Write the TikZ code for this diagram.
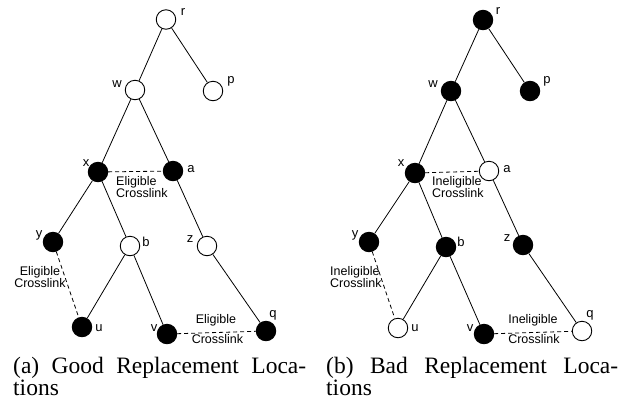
\documentclass[tikz,border=0pt]{standalone}
\usepackage{fontspec}
\setmainfont{Liberation Serif}
\newfontfamily\lblfont{Liberation Sans}
\begin{document}
\begin{tikzpicture}[x=1pt,y=-1pt,
  vtx/.style={circle,draw=black,line width=0.9pt,minimum size=19.5pt,inner sep=0pt},
  wn/.style={vtx,fill=white},
  bn/.style={vtx,fill=black},
  edge/.style={line width=0.8pt},
  xlink/.style={line width=0.8pt,dash pattern=on 4pt off 3pt},
  lbl/.style={inner sep=0pt,font=\lblfont\fontsize{13}{13}\selectfont},
  xl/.style={inner sep=0pt,font=\lblfont\fontsize{12.5}{11.5}\selectfont},
  captext/.style={inner sep=0pt,anchor=base west,font=\fontsize{23.5}{21}\selectfont}]
\useasboundingbox (0,0) rectangle (626,400);
% ---------- left tree ----------
\node[wn] (lr) at (166,19.5) {};
\node[wn] (lw) at (135,90) {};
\node[wn] (lp) at (213,91) {};
\node[bn] (lx) at (98,172) {};
\node[bn] (la) at (173,171) {};
\node[bn] (ly) at (53,242) {};
\node[wn] (lb) at (130,246) {};
\node[wn] (lz) at (207,246) {};
\node[bn] (lu) at (82,327) {};
\node[bn] (lv) at (167,334) {};
\node[bn] (lq) at (266,331) {};
\draw[edge] (lr) -- (lw);
\draw[edge] (lr) -- (lp);
\draw[edge] (lw) -- (lx);
\draw[edge] (lw) -- (la);
\draw[edge] (lx) -- (ly);
\draw[edge] (lx) -- (lb);
\draw[edge] (la) -- (lz);
\draw[edge] (lb) -- (lu);
\draw[edge] (lb) -- (lv);
\draw[edge] (lz) -- (lq);
\draw[xlink] (lx) -- (la);
\draw[xlink] (ly) -- (lu);
\draw[xlink] (lv) -- (lq);
\node[lbl] (tlr) at (183,12) {r};
\node[lbl] (tlw) at (117,84) {w};
\node[lbl] (tlp) at (231,81) {p};
\node[lbl] (tlx) at (86,163) {x};
\node[lbl] (tla) at (191,169) {a};
\node[lbl] (tly) at (39,235) {y};
\node[lbl] (tlb) at (146,242) {b};
\node[lbl] (tlz) at (190,239) {z};
\node[lbl] (tlu) at (99,328) {u};
\node[lbl] (tlv) at (154,328) {v};
\node[lbl] (tlq) at (273,315) {q};
\node[xl,anchor=west,align=left] (lxl1) at (116,187) {Eligible\\Crosslink};
\node[xl,align=center] (lxl2) at (40,277) {Eligible\\Crosslink};
\node[xl,anchor=base] (lxl3a) at (216,323) {Eligible};
\node[xl,anchor=base] (lxl3b) at (217.5,343) {Crosslink};
\node[captext] (lcap1) at (13,373) {\makebox[293pt][s]{(a) Good Replacement Loca-}};
\node[captext] (lcap2) at (13,395.5) {tions};
% ---------- right tree ----------
\node[bn] (rr) at (483,20) {};
\node[bn] (rw) at (451,91) {};
\node[bn] (rp) at (530,91) {};
\node[bn] (rx) at (415,173) {};
\node[wn] (ra) at (489,171) {};
\node[bn] (ry) at (369,242) {};
\node[bn] (rb) at (446,247) {};
\node[bn] (rz) at (523,245) {};
\node[wn] (ru) at (398,328) {};
\node[bn] (rv) at (484,334) {};
\node[wn] (rq) at (582,331) {};
\draw[edge] (rr) -- (rw);
\draw[edge] (rr) -- (rp);
\draw[edge] (rw) -- (rx);
\draw[edge] (rw) -- (ra);
\draw[edge] (rx) -- (ry);
\draw[edge] (rx) -- (rb);
\draw[edge] (ra) -- (rz);
\draw[edge] (rb) -- (ru);
\draw[edge] (rb) -- (rv);
\draw[edge] (rz) -- (rq);
\draw[xlink] (rx) -- (ra);
\draw[xlink] (ry) -- (ru);
\draw[xlink] (rv) -- (rq);
\node[lbl] (trr) at (498,11) {r};
\node[lbl] (trw) at (433,84) {w};
\node[lbl] (trp) at (547,81) {p};
\node[lbl] (trx) at (401,163) {x};
\node[lbl] (tra) at (507,169) {a};
\node[lbl] (try) at (355,235) {y};
\node[lbl] (trb) at (461,242) {b};
\node[lbl] (trz) at (507,238) {z};
\node[lbl] (tru) at (415,328) {u};
\node[lbl] (trv) at (470,328) {v};
\node[lbl] (trq) at (590,315) {q};
\node[xl,anchor=west,align=left] (rxl1) at (432,187) {Ineligible\\Crosslink};
\node[xl,anchor=west,align=left] (rxl2) at (330,277) {Ineligible\\Crosslink};
\node[xl,anchor=base] (rxl3a) at (533,323) {Ineligible};
\node[xl,anchor=base] (rxl3b) at (534,343) {Crosslink};
\node[captext] (rcap1) at (326,373) {\makebox[292pt][s]{(b) Bad Replacement Loca-}};
\node[captext] (rcap2) at (326,395.5) {tions};
\end{tikzpicture}
\end{document}
